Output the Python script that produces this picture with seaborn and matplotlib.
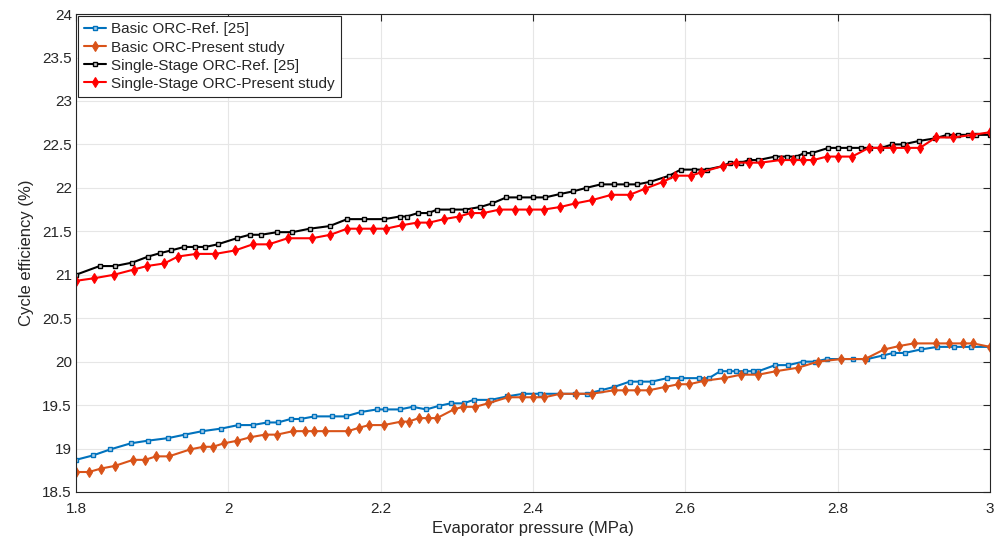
import matplotlib
matplotlib.use("Agg")
import matplotlib.pyplot as plt
import seaborn as sns
import pandas as pd

# Basic ORC, reference data [25]
basic_ref_p = [1.800, 1.822, 1.845, 1.872, 1.894, 1.921, 1.943, 1.966, 1.991, 2.013, 2.032, 2.051,
               2.065, 2.082, 2.095, 2.113, 2.136, 2.154, 2.174, 2.195, 2.206, 2.225, 2.242, 2.260,
               2.276, 2.292, 2.309, 2.322, 2.345, 2.366, 2.387, 2.409, 2.436, 2.455, 2.471, 2.489,
               2.507, 2.527, 2.541, 2.556, 2.576, 2.595, 2.618, 2.631, 2.646, 2.657, 2.667, 2.679,
               2.689, 2.696, 2.718, 2.735, 2.755, 2.770, 2.786, 2.805, 2.820, 2.839, 2.859, 2.873,
               2.888, 2.909, 2.931, 2.953, 2.975, 3.000]
basic_ref_eta = [18.87, 18.92, 18.99, 19.06, 19.09, 19.12, 19.16, 19.20, 19.23, 19.27, 19.27, 19.30,
                 19.30, 19.34, 19.34, 19.37, 19.37, 19.37, 19.42, 19.45, 19.45, 19.45, 19.48, 19.45,
                 19.49, 19.52, 19.52, 19.56, 19.56, 19.60, 19.63, 19.63, 19.63, 19.63, 19.63, 19.67,
                 19.71, 19.77, 19.77, 19.77, 19.81, 19.81, 19.81, 19.81, 19.89, 19.89, 19.89, 19.89,
                 19.89, 19.89, 19.96, 19.96, 20.00, 20.00, 20.03, 20.03, 20.03, 20.03, 20.07, 20.10,
                 20.10, 20.14, 20.17, 20.17, 20.17, 20.17]

# Basic ORC, present study
basic_new_p = [1.800, 1.817, 1.833, 1.851, 1.875, 1.891, 1.905, 1.922, 1.950, 1.967, 1.980, 1.994,
               2.012, 2.029, 2.048, 2.064, 2.085, 2.101, 2.113, 2.127, 2.157, 2.172, 2.185, 2.204,
               2.227, 2.237, 2.250, 2.262, 2.274, 2.296, 2.308, 2.324, 2.341, 2.367, 2.385, 2.400,
               2.415, 2.436, 2.457, 2.477, 2.506, 2.521, 2.536, 2.552, 2.574, 2.591, 2.605, 2.625,
               2.651, 2.673, 2.696, 2.719, 2.748, 2.774, 2.805, 2.836, 2.861, 2.881, 2.900, 2.929,
               2.946, 2.965, 2.978, 3.000]
basic_new_eta = [18.73, 18.73, 18.77, 18.80, 18.87, 18.87, 18.91, 18.91, 18.99, 19.02, 19.02, 19.06,
                 19.09, 19.13, 19.16, 19.16, 19.20, 19.20, 19.20, 19.20, 19.20, 19.24, 19.27, 19.27,
                 19.31, 19.31, 19.35, 19.35, 19.35, 19.45, 19.48, 19.48, 19.52, 19.59, 19.59, 19.59,
                 19.59, 19.63, 19.63, 19.63, 19.67, 19.67, 19.67, 19.67, 19.71, 19.74, 19.74, 19.78,
                 19.81, 19.85, 19.85, 19.89, 19.93, 20.00, 20.03, 20.03, 20.14, 20.18, 20.21, 20.21,
                 20.21, 20.21, 20.21, 20.17]

# Single-stage ORC, reference data [25]
single_ref_p = [1.800, 1.831, 1.851, 1.874, 1.895, 1.911, 1.925, 1.942, 1.956, 1.970, 1.986, 2.011,
                2.028, 2.043, 2.064, 2.084, 2.107, 2.133, 2.156, 2.178, 2.205, 2.225, 2.234, 2.249,
                2.263, 2.274, 2.294, 2.311, 2.331, 2.346, 2.365, 2.382, 2.400, 2.416, 2.436, 2.453,
                2.470, 2.489, 2.507, 2.522, 2.537, 2.554, 2.579, 2.594, 2.611, 2.628, 2.649, 2.659,
                2.673, 2.684, 2.696, 2.718, 2.734, 2.746, 2.756, 2.766, 2.788, 2.801, 2.815, 2.831,
                2.842, 2.857, 2.872, 2.886, 2.907, 2.928, 2.944, 2.958, 2.971, 2.982, 3.000]
single_ref_eta = [21.00, 21.10, 21.10, 21.14, 21.21, 21.25, 21.28, 21.32, 21.32, 21.32, 21.35, 21.42,
                  21.46, 21.46, 21.49, 21.49, 21.53, 21.56, 21.64, 21.64, 21.64, 21.67, 21.67, 21.71,
                  21.71, 21.75, 21.75, 21.75, 21.78, 21.82, 21.89, 21.89, 21.89, 21.89, 21.93, 21.96,
                  22.00, 22.04, 22.04, 22.04, 22.04, 22.07, 22.14, 22.21, 22.21, 22.21, 22.25, 22.29,
                  22.29, 22.32, 22.32, 22.36, 22.36, 22.36, 22.40, 22.40, 22.46, 22.46, 22.46, 22.46,
                  22.46, 22.46, 22.50, 22.50, 22.54, 22.57, 22.61, 22.61, 22.61, 22.61, 22.61]

# Single-stage ORC, present study
single_new_p = [1.800, 1.824, 1.850, 1.876, 1.893, 1.916, 1.934, 1.958, 1.983, 2.009, 2.032, 2.053,
                2.078, 2.110, 2.134, 2.156, 2.172, 2.190, 2.207, 2.228, 2.248, 2.264, 2.283, 2.303,
                2.318, 2.335, 2.356, 2.377, 2.395, 2.414, 2.436, 2.455, 2.478, 2.503, 2.527, 2.547,
                2.571, 2.587, 2.608, 2.621, 2.649, 2.666, 2.683, 2.699, 2.725, 2.742, 2.755, 2.768,
                2.786, 2.801, 2.819, 2.841, 2.856, 2.873, 2.891, 2.908, 2.929, 2.952, 2.977, 3.000]
single_new_eta = [20.93, 20.96, 21.00, 21.06, 21.10, 21.13, 21.21, 21.24, 21.24, 21.28, 21.35, 21.35,
                  21.42, 21.42, 21.46, 21.53, 21.53, 21.53, 21.53, 21.57, 21.60, 21.60, 21.64, 21.67,
                  21.71, 21.71, 21.75, 21.75, 21.75, 21.75, 21.78, 21.82, 21.86, 21.92, 21.92, 21.99,
                  22.07, 22.14, 22.14, 22.18, 22.25, 22.29, 22.29, 22.29, 22.32, 22.32, 22.32, 22.32,
                  22.36, 22.36, 22.36, 22.46, 22.46, 22.46, 22.46, 22.46, 22.58, 22.58, 22.61, 22.64]

series = [
    ("Basic ORC-Ref. [25]", basic_ref_p, basic_ref_eta, "#0072BD", "s"),
    ("Basic ORC-Present study", basic_new_p, basic_new_eta, "#D95319", "d"),
    ("Single-Stage ORC-Ref. [25]", single_ref_p, single_ref_eta, "#000000", "s"),
    ("Single-Stage ORC-Present study", single_new_p, single_new_eta, "#FF0000", "d"),
]

sns.set_theme(style="whitegrid")
plt.rcParams["font.family"] = ["Liberation Sans", "DejaVu Sans"]

fig, ax = plt.subplots(figsize=(10.02, 5.41), dpi=100)
fig.subplots_adjust(left=0.0758, right=0.988, top=0.974, bottom=0.0906)

for name, p, eta, color, mk in series:
    df = pd.DataFrame({"p": p, "eta": eta})
    if mk == "s":
        mkw = dict(marker="s", markersize=3.2,
                   markerfacecolor="#cfcfcf" if color == "#000000" else "#a9cce8",
                   markeredgecolor=color, markeredgewidth=1.0)
    else:
        mkw = dict(marker="d", markersize=5, markerfacecolor=color, markeredgecolor=color,
                   markeredgewidth=0.8)
    sns.lineplot(data=df, x="p", y="eta", ax=ax, color=color, linewidth=1.5,
                 estimator=None, sort=False, label=name, **mkw)

ax.set_xlim(1.8, 3.0)
ax.set_ylim(18.5, 24)
xt = [1.8, 2.0, 2.2, 2.4, 2.6, 2.8, 3.0]
yt = [18.5, 19, 19.5, 20, 20.5, 21, 21.5, 22, 22.5, 23, 23.5, 24]
ax.set_xticks(xt)
ax.set_xticklabels(["1.8", "2", "2.2", "2.4", "2.6", "2.8", "3"])
ax.set_yticks(yt)
ax.set_yticklabels(["18.5", "19", "19.5", "20", "20.5", "21", "21.5", "22", "22.5", "23", "23.5", "24"])

ax.set_facecolor("white")
ax.grid(True, color="#e6e6e6", linewidth=0.8)
for s in ax.spines.values():
    s.set_visible(True)
    s.set_color("#262626")
    s.set_linewidth(0.8)
ax.tick_params(axis="both", which="both", direction="in", length=5, width=0.8,
               colors="#262626", labelsize=11, top=True, right=True,
               labelcolor="#262626")
ax.tick_params(axis="x", pad=7.5)
ax.tick_params(axis="y", pad=3)

ax.set_xlabel("Evaporator pressure (MPa)", fontsize=12, color="#262626", labelpad=3)
ax.set_ylabel("Cycle efficiency (%)", fontsize=12, color="#262626", labelpad=6)

leg = ax.legend(loc="upper left", fontsize=11, frameon=True, fancybox=False,
                borderaxespad=0.15, handlelength=1.4, handletextpad=0.35,
                labelspacing=0.27, borderpad=0.4)
leg.get_frame().set_edgecolor("#262626")
leg.get_frame().set_linewidth(0.8)
leg.get_frame().set_alpha(1.0)

fig.savefig("out.png", dpi=100)
